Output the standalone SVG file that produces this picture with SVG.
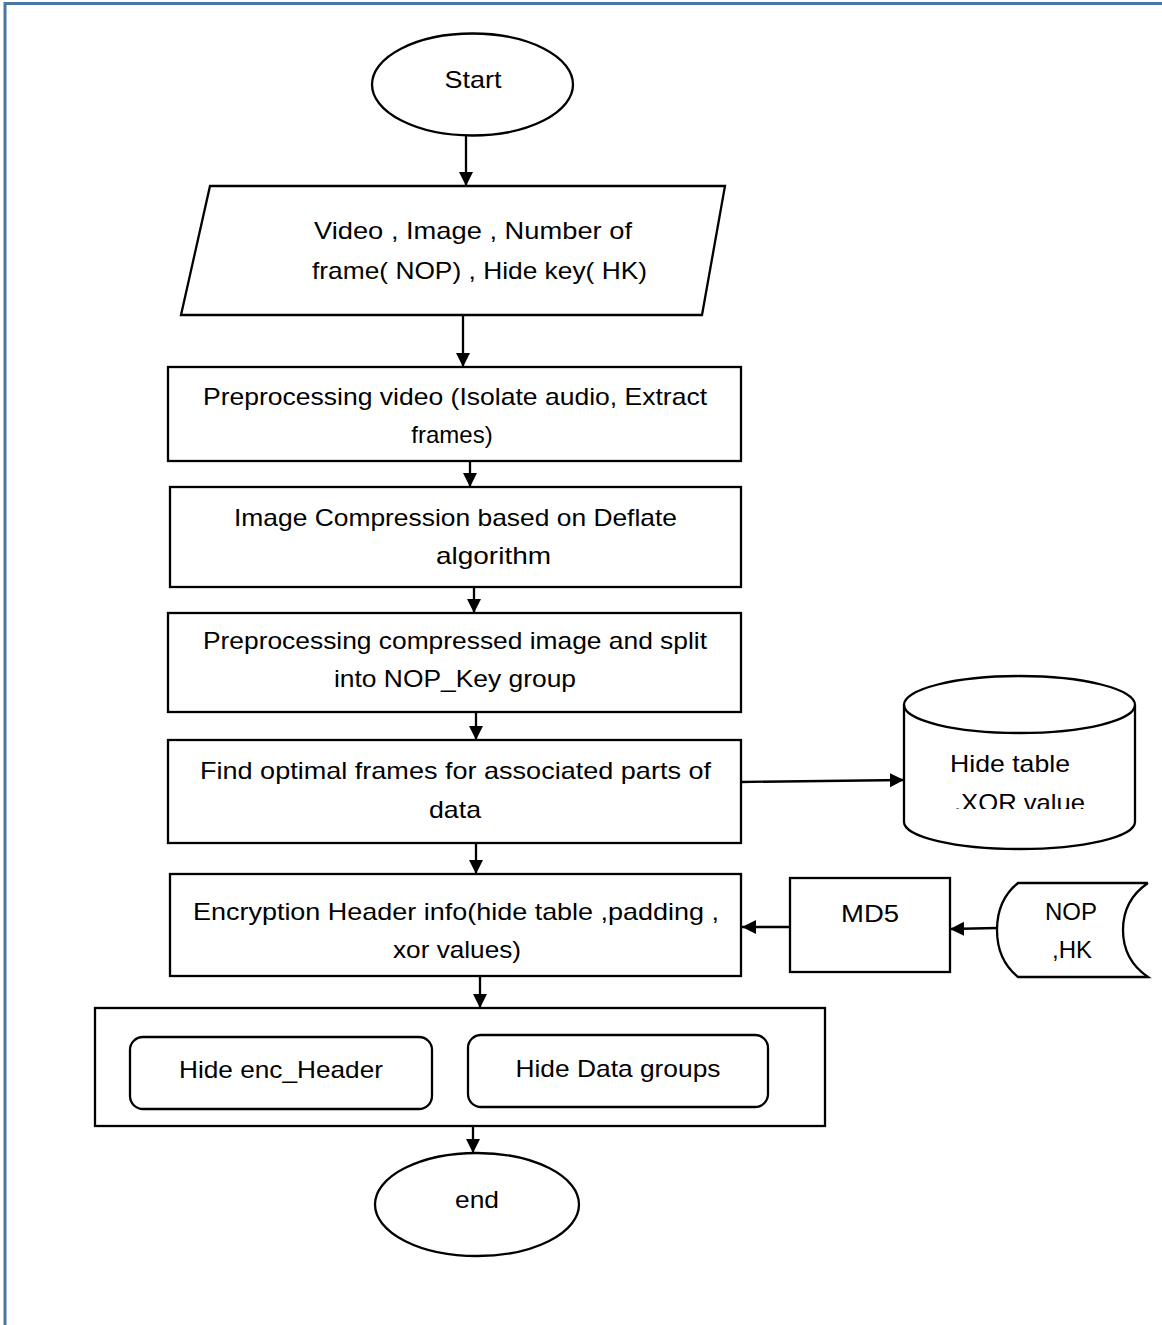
<svg xmlns="http://www.w3.org/2000/svg" width="1162" height="1325" viewBox="0 0 1162 1325">
<style>
.s{fill:#fff;stroke:#000;stroke-width:2.3}
.t{font-family:"Liberation Sans",Arial,sans-serif;font-size:24px;fill:#000}
.c{fill:none;stroke:#000;stroke-width:2.3}
</style>
<defs>
<marker id="ah" markerUnits="userSpaceOnUse" markerWidth="16" markerHeight="16" viewBox="0 0 16 16" refX="14" refY="8" orient="auto">
<path d="M0,1 L14,8 L0,15 Z" fill="#000"/>
</marker>
<clipPath id="cyl"><rect x="880" y="640" width="280" height="169"/></clipPath>
</defs>
<rect width="1162" height="1325" fill="#fff"/>
<path d="M5,1400 L5,3.5 L1170,3.5" fill="none" stroke="#4a76a6" stroke-width="3"/>

<g id="start">
<ellipse class="s" cx="472.5" cy="84.5" rx="100.5" ry="51"/>
<text class="t" x="473" y="88" text-anchor="middle" textLength="57" lengthAdjust="spacingAndGlyphs">Start</text>
</g>

<g id="input">
<polygon class="s" points="210,186 725,186 702,315 181,315"/>
<text class="t" x="314" y="239" textLength="318" lengthAdjust="spacingAndGlyphs">Video  , Image , Number of</text>
<text class="t" x="312" y="279" textLength="335" lengthAdjust="spacingAndGlyphs">frame( NOP) , Hide key( HK)</text>
</g>

<g id="preprocess">
<rect class="s" x="168" y="367" width="573" height="94"/>
<text class="t" x="203" y="405" textLength="504" lengthAdjust="spacingAndGlyphs">Preprocessing video (Isolate audio, Extract</text>
<text class="t" x="452" y="443" text-anchor="middle">frames)</text>
</g>

<g id="compress">
<rect class="s" x="170" y="487" width="571" height="100"/>
<text class="t" x="234" y="526" textLength="443" lengthAdjust="spacingAndGlyphs">Image Compression based on Deflate</text>
<text class="t" x="436" y="564" textLength="115" lengthAdjust="spacingAndGlyphs">algorithm</text>
</g>

<g id="split">
<rect class="s" x="168" y="613" width="573" height="99"/>
<text class="t" x="203" y="649" textLength="504" lengthAdjust="spacingAndGlyphs">Preprocessing compressed image and split</text>
<text class="t" x="334" y="687" textLength="242" lengthAdjust="spacingAndGlyphs">into NOP_Key group</text>
</g>

<g id="optimal">
<rect class="s" x="168" y="740" width="573" height="103"/>
<text class="t" x="200" y="779" textLength="511" lengthAdjust="spacingAndGlyphs">Find optimal frames for associated parts of</text>
<text class="t" x="429" y="818" textLength="52" lengthAdjust="spacingAndGlyphs">data</text>
</g>

<g id="hidetable">
<path class="s" d="M904,705 L904,822 A115.5,27 0 0 0 1135,822 L1135,705 A115.5,29 0 0 0 904,705 Z"/>
<path class="c" d="M904,705 A115.5,28 0 0 0 1135,705"/>
<text class="t" x="950" y="772" textLength="120" lengthAdjust="spacingAndGlyphs">Hide table</text>
<text class="t" x="954" y="811" textLength="131" lengthAdjust="spacingAndGlyphs" clip-path="url(#cyl)">.XOR value</text>
</g>

<g id="encrypt">
<rect class="s" x="170" y="874" width="571" height="102"/>
<text class="t" x="193" y="920" textLength="526" lengthAdjust="spacingAndGlyphs">Encryption Header info(hide table ,padding ,</text>
<text class="t" x="393" y="958" textLength="128" lengthAdjust="spacingAndGlyphs">xor values)</text>
</g>

<g id="md5">
<rect class="s" x="790" y="878" width="160" height="94"/>
<text class="t" x="870" y="922" text-anchor="middle" textLength="58" lengthAdjust="spacingAndGlyphs">MD5</text>
</g>

<g id="nophk">
<path class="s" d="M1148,883 L1018,883 Q997,900 997,930 Q997,960 1018,977 L1148,977 Q1123,960 1123,930 Q1123,900 1148,883"/>
<text class="t" x="1071" y="920" text-anchor="middle">NOP</text>
<text class="t" x="1072" y="958" text-anchor="middle">,HK</text>
</g>

<g id="hide">
<rect class="s" x="95" y="1008" width="730" height="118"/>
<g id="hideheader">
<rect class="s" x="130" y="1037" width="302" height="72" rx="13"/>
<text class="t" x="281" y="1078" text-anchor="middle" textLength="204" lengthAdjust="spacingAndGlyphs">Hide enc_Header</text>
</g>
<g id="hidedata">
<rect class="s" x="468" y="1035" width="300" height="72" rx="13"/>
<text class="t" x="618" y="1077" text-anchor="middle" textLength="205" lengthAdjust="spacingAndGlyphs">Hide Data groups</text>
</g>
</g>

<g id="end">
<ellipse class="s" cx="477" cy="1204.5" rx="102" ry="51.5"/>
<text class="t" x="477" y="1208" text-anchor="middle" textLength="44" lengthAdjust="spacingAndGlyphs">end</text>
</g>

<g id="connectors">
<path class="c" d="M466,136 L466,186" marker-end="url(#ah)"/>
<path class="c" d="M463,316 L463,367" marker-end="url(#ah)"/>
<path class="c" d="M470,461 L470,487" marker-end="url(#ah)"/>
<path class="c" d="M474,587 L474,613" marker-end="url(#ah)"/>
<path class="c" d="M476,712 L476,740" marker-end="url(#ah)"/>
<path class="c" d="M476,843 L476,874" marker-end="url(#ah)"/>
<path class="c" d="M480,976 L480,1008" marker-end="url(#ah)"/>
<path class="c" d="M473,1126 L473,1153" marker-end="url(#ah)"/>
<path class="c" d="M741,782 L904,780" marker-end="url(#ah)"/>
<path class="c" d="M790,927 L742,927" marker-end="url(#ah)"/>
<path class="c" d="M997,928 L950,929" marker-end="url(#ah)"/>
</g>
</svg>
